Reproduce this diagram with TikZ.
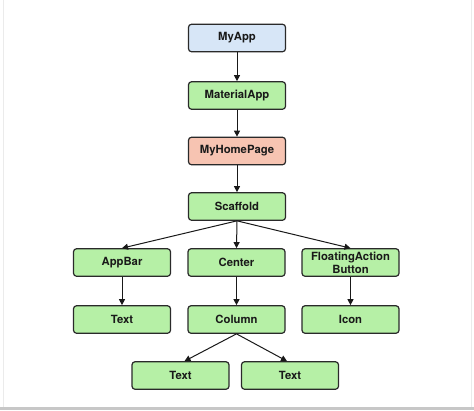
\documentclass[tikz,border=0pt]{standalone}
\usepackage{fontspec}
\setmainfont{TeX Gyre Heros}
\usetikzlibrary{arrows.meta}
\definecolor{boxblue}{HTML}{D7E6F7}
\definecolor{boxgreen}{HTML}{B6F0A6}
\definecolor{boxred}{HTML}{F7C4B2}
\definecolor{edgecol}{HTML}{2A2A2A}
\tikzset{
  wbox/.style={draw=edgecol, line width=1.2pt, rounded corners=3pt,
    minimum width=97pt, minimum height=27.5pt, inner sep=1pt,
    font=\fontsize{11.3}{13}\selectfont\bfseries, text=black!90, align=center},
  greenbox/.style={wbox, fill=boxgreen},
  conn/.style={draw=black!90, line width=1pt, -{Triangle[length=6pt,width=6pt]}}
}
\begin{document}
\begin{tikzpicture}[x=1pt,y=-1pt]
\useasboundingbox (0,0) rectangle (474,410);
\fill[white] (0,0) rectangle (474,410);
\draw[black!8, line width=1pt] (3.5,0) -- (3.5,407);
\draw[black!8, line width=1pt] (471.5,0) -- (471.5,407);
\fill[black!22] (0,406.5) rectangle (474,410);

\node[wbox, fill=boxblue] (myapp) at (237,38) {MyApp};
\node[greenbox] (material) at (237,95.5) {MaterialApp};
\node[wbox, fill=boxred] (home) at (237,151) {MyHomePage};
\node[greenbox] (scaffold) at (237,206.5) {Scaffold};
\node[greenbox] (appbar) at (122,262.5) {AppBar};
\node[greenbox] (center) at (236.5,262.5) {Center};
\node[greenbox] (fab) at (350.5,262.5) {FloatingAction\\Button};
\node[greenbox] (text1) at (122,319.5) {Text};
\node[greenbox] (column) at (236.5,319.5) {Column};
\node[greenbox] (icon) at (350.5,319.5) {Icon};
\node[greenbox] (text2) at (180.5,375.5) {Text};
\node[greenbox] (text3) at (290,375.5) {Text};

\draw[conn] (myapp) -- (material);
\draw[conn] (material) -- (home);
\draw[conn] (home) -- (scaffold);
\draw[conn] (scaffold.south) -- (appbar.north);
\draw[conn] (scaffold.south) -- (center.north);
\draw[conn] (scaffold.south) -- (fab.north);
\draw[conn] (appbar) -- (text1);
\draw[conn] (center) -- (column);
\draw[conn] (fab) -- (icon);
\draw[conn] (column.south) -- ([xshift=4pt]text2.north);
\draw[conn] (column.south) -- ([xshift=-3pt]text3.north);
\end{tikzpicture}
\end{document}
